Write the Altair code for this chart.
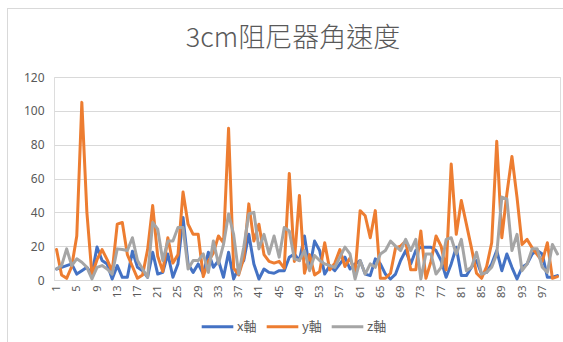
import altair as alt
import pandas as pd

# Angular velocity of a 3 cm damper, three axes, samples 1..100
samples = list(range(1, 101))

x_axis = [6.5, 7.5, 8.5, 9.5, 3.5, 5.5, 7.5, 3.5, 19.5, 11.5,
          9.5, 0.6, 8.5, 1.6, 1.6, 17.0, 7.5, 5.5, 1.6, 16.4,
          3.5, 4.5, 15.4, 1.6, 9.5, 37.0, 9.5, 4.5, 9.5, 3.5,
          16.4, 7.5, 11.5, 1.6, 16.4, 0.6, 7.5, 11.5, 27.0, 9.5,
          0.6, 6.5, 4.5, 4.0, 5.5, 5.5, 13.5, 15.4, 11.5, 26.0,
          6.5, 23.0, 17.4, 3.5, 8.5, 5.5, 9.5, 13.5, 6.5, 9.5,
          11.5, 3.5, 2.6, 12.5, 9.5, 3.5, 0.6, 3.5, 11.5, 17.4,
          9.5, 17.4, 19.4, 19.4, 19.4, 17.4, 11.5, 1.6, 9.5, 19.4,
          2.6, 2.6, 7.5, 11.5, 3.5, 4.5, 9.5, 17.4, 5.5, 15.4,
          7.5, 0.6, 7.5, 9.5, 15.4, 17.4, 15.4, 1.6, 1.6, 2.6]

y_axis = [18.0, 3.0, 1.0, 8.0, 26.0, 105.0, 40.0, 3.0, 12.0, 18.0,
          12.0, 5.0, 33.0, 34.0, 15.0, 8.0, 1.0, 3.0, 18.0, 44.0,
          14.0, 5.0, 25.0, 10.0, 15.0, 52.0, 33.0, 27.0, 27.0, 2.0,
          11.0, 16.0, 26.0, 22.0, 89.7, 7.0, 3.0, 13.0, 45.0, 23.0,
          33.0, 15.0, 11.0, 10.0, 11.0, 7.0, 63.0, 11.0, 50.0, 4.0,
          15.0, 3.0, 5.0, 22.0, 6.0, 10.0, 18.0, 8.0, 13.0, 4.0,
          41.0, 38.0, 25.0, 41.0, 1.0, 1.0, 4.0, 19.0, 20.0, 23.0,
          6.0, 6.0, 29.0, 1.0, 11.0, 26.0, 20.0, 6.0, 68.5, 27.0,
          47.0, 33.0, 19.0, 4.0, 1.0, 8.0, 22.0, 82.0, 25.0, 51.0,
          73.0, 49.0, 21.0, 24.0, 19.0, 15.0, 11.0, 22.0, 1.0, 2.0]

z_axis = [6.5, 8.5, 18.4, 8.5, 12.5, 10.5, 7.5, 0.6, 7.5, 8.5,
          6.5, 3.5, 18.4, 18.0, 17.4, 25.0, 11.5, 6.5, 1.6, 34.0,
          30.0, 11.5, 23.0, 23.0, 31.0, 31.0, 6.5, 11.5, 11.5, 15.4,
          4.5, 23.0, 9.5, 21.0, 39.0, 27.0, 3.5, 19.4, 39.0, 40.0,
          18.4, 27.0, 15.4, 26.0, 13.5, 31.0, 29.0, 12.5, 11.5, 17.4,
          5.5, 14.5, 11.5, 9.5, 8.5, 7.5, 13.5, 19.4, 15.4, 0.6,
          11.5, 3.5, 9.5, 7.5, 15.4, 17.4, 23.0, 20.0, 17.4, 24.0,
          17.4, 24.0, 0.6, 15.4, 15.4, 3.5, 7.5, 24.0, 25.0, 15.4,
          24.0, 5.5, 7.5, 16.4, 3.5, 4.5, 7.5, 15.4, 49.0, 48.0,
          17.4, 27.0, 5.5, 9.5, 18.4, 18.4, 7.5, 4.5, 21.0, 15.4]

series_names = ["x軸", "y軸", "z軸"]
series_colors = ["#4472C4", "#ED7D31", "#A5A5A5"]
y_ticks = [0, 20, 40, 60, 80, 100, 120]
x_label_values = list(range(1, 101, 4))

rows = []
for name, vals in zip(series_names, [x_axis, y_axis, z_axis]):
    for s, v in zip(samples, vals):
        rows.append({"sample": s, "series": name, "value": v})
df = pd.DataFrame(rows)

W, H = 506, 203
label_font = "Noto Sans"
cjk_font = "Noto Sans CJK TC"
text_color = "#595959"
grid_color = "#D9D9D9"

lines = alt.Chart(df).mark_line(strokeWidth=3, strokeJoin="round", strokeCap="round").encode(
    x=alt.X("sample:O",
            axis=alt.Axis(values=x_label_values, labelAngle=270, title=None, grid=False,
                          ticks=False, domainColor=grid_color, labelColor=text_color,
                          labelFont=label_font, labelFontSize=11, labelPadding=5)),
    y=alt.Y("value:Q", scale=alt.Scale(domain=[0, 120], nice=False),
            axis=alt.Axis(values=y_ticks, title=None, domain=False, ticks=False,
                          gridColor=grid_color, labelColor=text_color,
                          labelFont=label_font, labelFontSize=12, labelPadding=10)),
    color=alt.Color("series:N",
                    scale=alt.Scale(domain=series_names, range=series_colors),
                    legend=alt.Legend(title=None, orient="none", direction="horizontal",
                                      legendX=146, legendY=232,
                                      symbolType="stroke", symbolStrokeWidth=3,
                                      symbolSize=1000, labelFont=cjk_font,
                                      labelFontSize=13, labelColor=text_color,
                                      labelOffset=2, columnPadding=3)),
)

# Chart title drawn as a text mark at the top of the chart area
title = alt.Chart(pd.DataFrame({"t": ["3cm阻尼器角速度"]})).mark_text(
    font=cjk_font, fontSize=27, fontWeight=300, color=text_color,
    align="center", baseline="middle"
).encode(text="t:N", x=alt.value(W / 2 - 14), y=alt.value(-38))

# Light frame lines along the left and top of the chart area
frame_left = alt.Chart(pd.DataFrame({"k": [0]})).mark_rule(
    stroke=grid_color, strokeWidth=1
).encode(x=alt.value(-46.5), y=alt.value(-69), y2=alt.value(H + 100))
frame_top = alt.Chart(pd.DataFrame({"k": [0]})).mark_rule(
    stroke=grid_color, strokeWidth=1
).encode(x=alt.value(-47), x2=alt.value(W + 40), y=alt.value(-68.5))

chart = alt.layer(frame_left, frame_top, title, lines).properties(
    width=W, height=H,
    autosize=alt.AutoSizeParams(type="none"),
    padding={"left": 54, "top": 77, "right": 3, "bottom": 62},
).configure_view(stroke=None).configure(background="white")

chart.save("out.html", embed_options={"renderer": "svg", "actions": False})
